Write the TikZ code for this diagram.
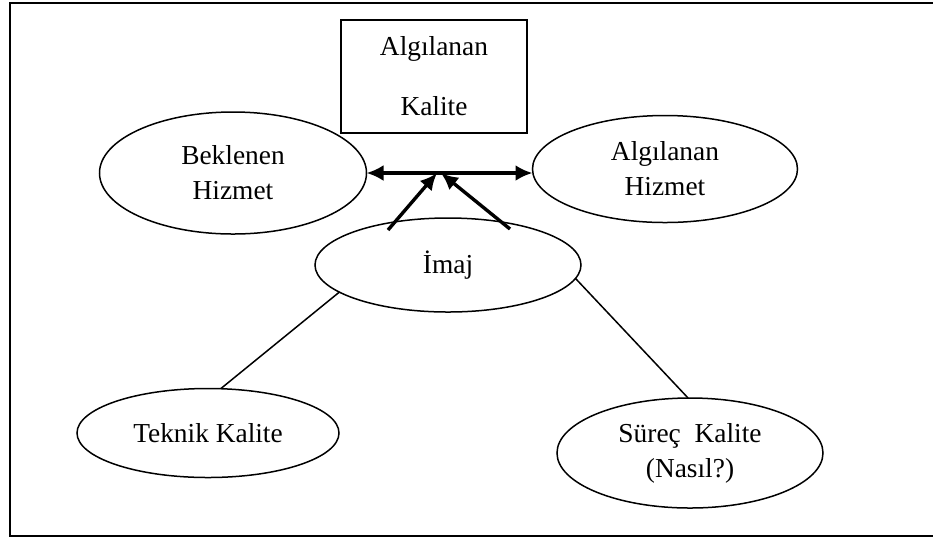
\documentclass[tikz,border=0pt]{standalone}
\usepackage{fontspec}
\setmainfont{Liberation Serif}
\usetikzlibrary{shapes,arrows,arrows.meta,positioning}

\tikzset{
  oval/.style={draw, ellipse, line width=0.75pt, inner sep=0pt, outer sep=0pt, align=center, font=\fontsize{13.7}{17.5}\selectfont},
  boxnode/.style={draw, rectangle, line width=0.75pt, inner sep=0pt, outer sep=0pt, align=center, font=\fontsize{13.7}{17.5}\selectfont},
  thin link/.style={line width=0.75pt},
  fat arrow/.style={line width=1.7pt, -{Latex[length=8.5pt,width=8pt]}},
}

\begin{document}
\begin{tikzpicture}[x=0.5pt, y=-0.5pt]
\useasboundingbox (0,0) rectangle (933,538);
\clip (0,0) rectangle (933,538);
% Frame
\draw[line width=1pt] (10,3) rectangle (945,536);

% Nodes
\node[boxnode, minimum width=93pt, minimum height=56.5pt] (alk) at (434,76.5) {Algılanan\\[12.5pt]Kalite};
\node[oval, minimum width=133.5pt, minimum height=61pt] (bek) at (233,173) {Beklenen\\Hizmet};
\node[oval, minimum width=132.5pt, minimum height=53.5pt] (alh) at (665,169) {Algılanan\\Hizmet};
\node[oval, minimum width=133pt, minimum height=47pt] (imaj) at (448,265) {İmaj};
\node[oval, minimum width=131pt, minimum height=44.5pt] (tek) at (208,433) {Teknik Kalite};
\node[oval, minimum width=133pt, minimum height=55pt] (sur) at (690,453) {Süreç~ Kalite\\(Nasıl?)};

% Arrows
\coordinate (src1) at (388,230);
\coordinate (src2) at (510,229);
\coordinate (tip1) at (437,173);
\coordinate (tip2) at (441,173);
\draw[fat arrow, {Latex[length=8.5pt,width=8pt]}-{Latex[length=8.5pt,width=8pt]}] (bek.east) -- (bek.east -| alh.west);
\draw[fat arrow] (src1) -- (tip1);
\draw[fat arrow] (src2) -- (tip2);

% Links
\draw[thin link] (imaj.194) -- (tek.74);
\draw[thin link] (imaj.-6.5) -- (sur.92);
\end{tikzpicture}
\end{document}
